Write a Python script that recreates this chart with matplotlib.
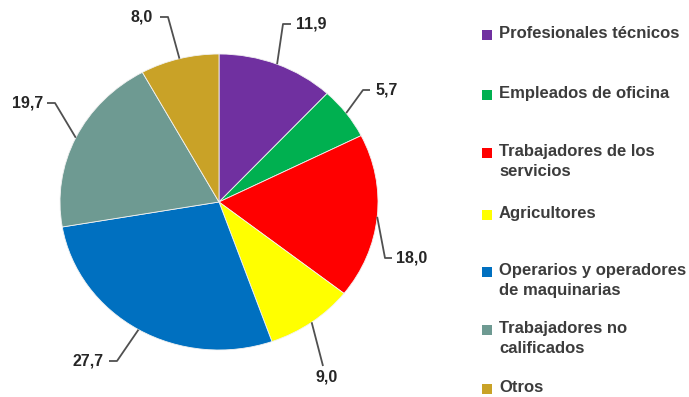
import numpy as np
import matplotlib.pyplot as plt

# Distribución de ocupados por grupo ocupacional (%)
categorias = [
    "Profesionales técnicos",
    "Empleados de oficina",
    "Trabajadores de los\nservicios",
    "Agricultores",
    "Operarios y operadores\nde maquinarias",
    "Trabajadores no\ncalificados",
    "Otros",
]
valores = [11.9, 5.7, 18.0, 9.0, 27.7, 19.7, 8.0]
colores = ["#7030A0", "#00B050", "#FF0000", "#FFFF00", "#0070C0", "#6E9A92", "#C9A227"]

# geometry in figure pixels (y grows downward on the overlay)
W, H = 689, 397
cx, cy, rx, ry = 219, 202, 159, 148

# elbow point and end of the short horizontal tick for each leader line
codos = [(283, 24), (363, 90), (385, 258), (323, 366), (117, 361), (55, 103), (168, 17)]
colas = [(291, 24), (370, 90), (392, 258), (323, 366), (109, 361), (47, 103), (160, 17)]
texto_pos = [(296, 24, "left"), (376, 90, "left"), (396, 258, "left"), (327, 377, "center"),
             (104, 361, "right"), (43, 103, "right"), (153, 17, "right")]

# legend rows (first-line center y)
leyenda_y = [35, 95, 153, 215, 272, 330, 389]

plt.rcParams["font.family"] = ["Liberation Sans", "DejaVu Sans"]
fig = plt.figure(figsize=(W / 100, H / 100), dpi=100)

# pie in its own axes so the slight oval shape can be kept
ax = fig.add_axes([(cx - rx) / W, (H - cy - ry) / H, 2 * rx / W, 2 * ry / H])
ax.pie(valores, colors=colores, startangle=90, counterclock=False,
       wedgeprops=dict(edgecolor="#f2f2f2", linewidth=0.6))
ax.set_aspect("auto")
ax.set_xlim(-1, 1)
ax.set_ylim(-1, 1)
ax.axis("off")

# overlay for leader lines, value labels and legend
lay = fig.add_axes([0, 0, 1, 1], facecolor="none")
lay.set_xlim(0, W)
lay.set_ylim(H, 0)
lay.axis("off")

total = sum(valores)
acum = 0.0
for i, v in enumerate(valores):
    medio = 90 - 360 * (acum + v / 2) / total
    acum += v
    ex = cx + rx * np.cos(np.radians(medio))
    ey = cy - ry * np.sin(np.radians(medio))
    (bx, by), (tx, ty) = codos[i], colas[i]
    lay.plot([ex, bx, tx], [ey, by, ty], color="#505050", lw=1.3, solid_capstyle="butt")
    px, py, ha = texto_pos[i]
    etiqueta = f"{v:.1f}".replace(".", ",")
    lay.text(px, py, etiqueta, ha=ha, va="center", fontsize=11.5,
             fontweight="bold", color="#262626")

for cat, col, y in zip(categorias, colores, leyenda_y):
    lay.scatter([486.5], [y], marker="s", s=62, color=col, linewidths=0)
    lay.text(499, y - 9, cat, ha="left", va="top", fontsize=12,
             fontweight="bold", color="#3c3c3c", linespacing=1.38)

fig.savefig("out.png", dpi=100)
